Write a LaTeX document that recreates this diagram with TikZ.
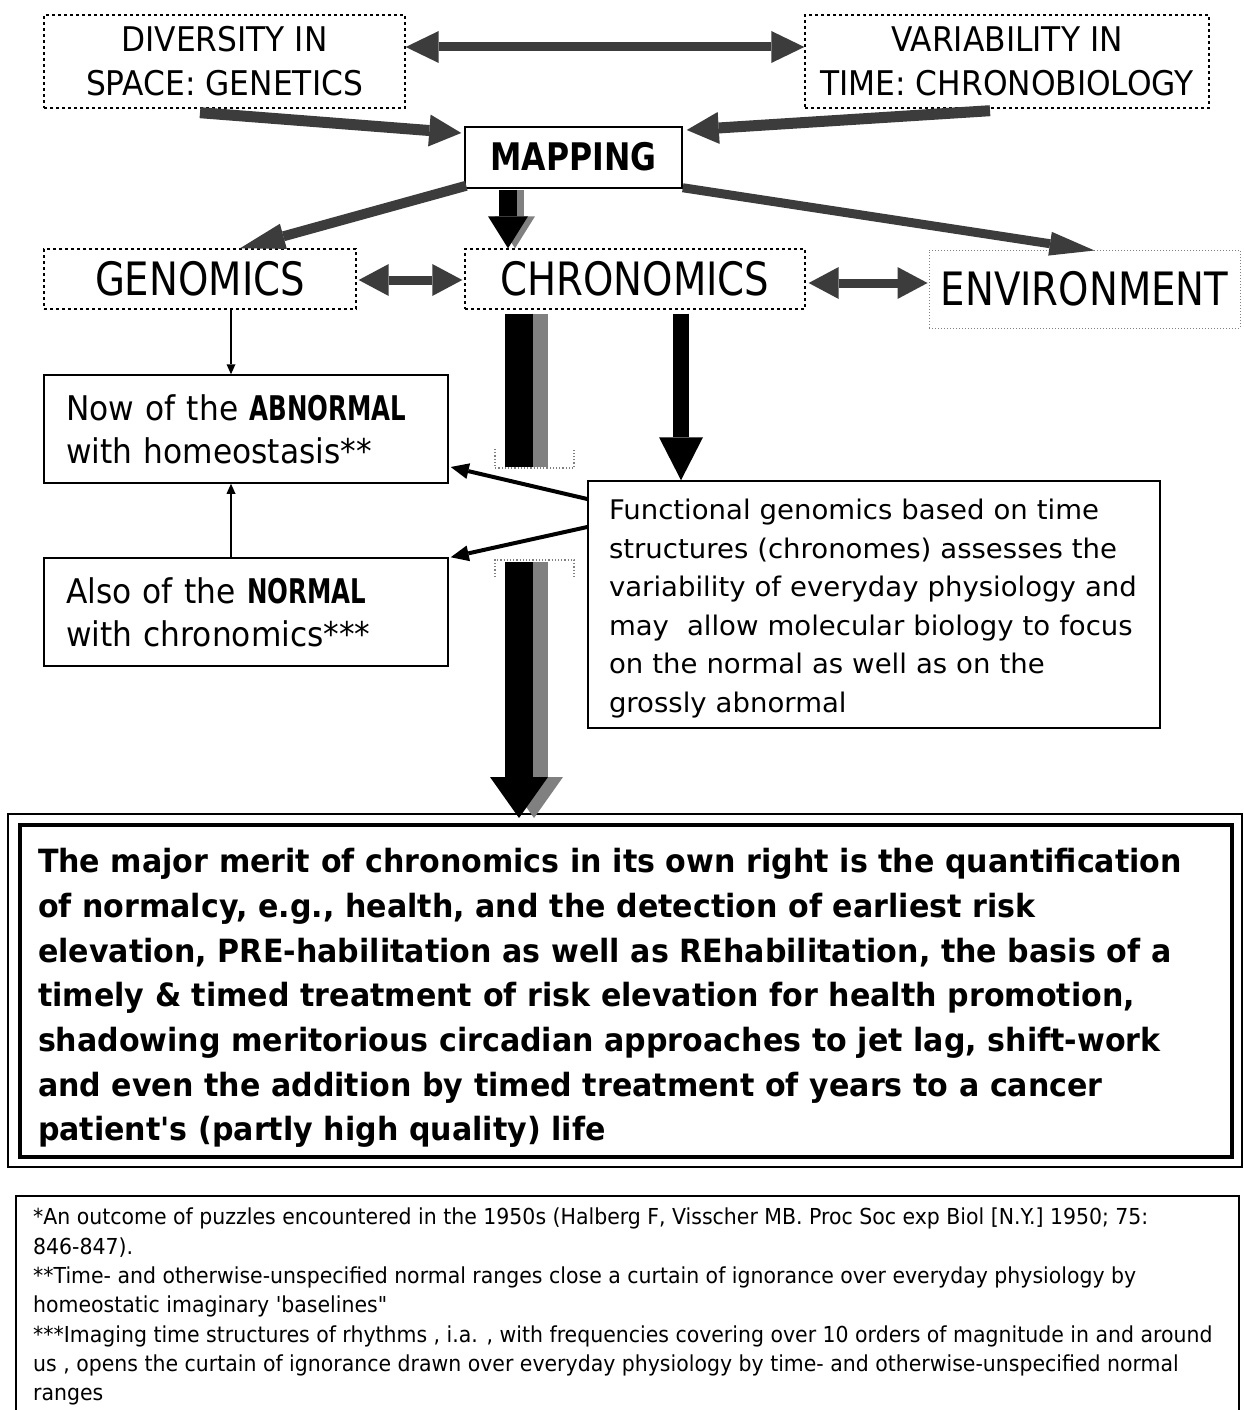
\documentclass[tikz,border=0pt]{standalone}
\usepackage{fontspec}
\setmainfont{DejaVu Sans}
\newfontfamily\fthin[FakeStretch=0.92]{DejaVu Sans}
\newfontfamily\fthinb[FakeStretch=0.72]{DejaVu Sans}
\newfontfamily\fmid[FakeStretch=0.84]{DejaVu Sans}
\newfontfamily\fmap[FakeStretch=0.83]{DejaVu Sans}
\newfontfamily\ffun[FakeStretch=1.02]{DejaVu Sans}
\newfontfamily\fbig[FakeStretch=0.94]{DejaVu Sans}
\newfontfamily\ffoot[FakeStretch=0.93]{DejaVu Sans}
\usetikzlibrary{arrows.meta,calc}
\definecolor{arrg}{HTML}{3C3C3C}
\definecolor{shad}{HTML}{808080}
\newcommand\lnx[1]{\makebox[0pt][l]{#1}}
\begin{document}
\begin{tikzpicture}[x=1pt,y=-1pt,
  dbox/.style={draw, dash pattern=on 3pt off 3pt, line width=1.4pt, inner sep=0pt, align=center},
  sbox/.style={draw, line width=1.5pt, inner sep=0pt},
  tbox/.style={draw, line width=1.5pt, inner ysep=0pt, align=left},
  garrow/.style={draw=arrg, line width=#1},
]
\fill[white] (0,0) rectangle (1243,1410);
\useasboundingbox (0,0) rectangle (1243,1410);

% top boxes
\node[dbox, minimum width=361pt, minimum height=93pt, font=\fthin\fontsize{34}{44}\selectfont] (div) at (224.5,61.5) {DIVERSITY IN\\SPACE: GENETICS};
\node[dbox, minimum width=404pt, minimum height=93pt, font=\fthin\fontsize{34}{44}\selectfont] (var) at (1007,61.5) {VARIABILITY IN\\TIME: CHRONOBIOLOGY};
\node[sbox, minimum width=217pt, minimum height=61pt, font=\fmap\bfseries\fontsize{38}{45}\selectfont] (map) at (573.5,157.5) {\raisebox{2pt}{MAPPING}};

% middle row
\node[dbox, minimum width=312pt, minimum height=60pt, font=\fmid\fontsize{46}{50}\selectfont] (gen) at (200,279) {GENOMICS};
\node[dbox, minimum width=340pt, minimum height=60pt, font=\fmid\fontsize{46}{50}\selectfont] (chr) at (635,279) {CHRONOMICS};
\node[draw=gray, dotted, line width=1pt, inner sep=0pt, minimum width=311pt, minimum height=78pt, font=\fmid\fontsize{46}{50}\selectfont] (env) at (1084.5,289) {ENVIRONMENT};

% left boxes
\node[tbox, inner xsep=22pt, text width=360pt, minimum height=108pt, font=\fthin\fontsize{34}{43}\selectfont] (abn) at (246,429)
  {\lnx{Now of the {\fthinb\bfseries ABNORMAL}}\\\lnx{with homeostasis**}};
\node[tbox, inner xsep=22pt, text width=360pt, minimum height=108pt, font=\fthin\fontsize{34}{43}\selectfont] (nor) at (246,612)
  {\lnx{Also of the {\fthinb\bfseries NORMAL}}\\\lnx{with chronomics***}};

% functional genomics box
\node[draw, line width=1.5pt, minimum width=572pt, minimum height=247pt] (fun) at (874,604.5) {};
\node[inner xsep=21pt, inner ysep=0pt, text width=530pt, align=left, font=\ffun\fontsize{27}{38.6}\selectfont] (funtext) at ([yshift=-4pt]fun.center)
  {\lnx{Functional genomics based on time}\\
   \lnx{structures (chronomes) assesses the}\\
   \lnx{variability of everyday physiology and}\\
   \lnx{may\ \ allow molecular biology to focus}\\
   \lnx{on the normal as well as on the}\\
   \lnx{grossly abnormal}};

% main box
\node[draw, line width=4pt, minimum width=1212pt, minimum height=332pt] (mainbox) at (626,991) {};
\node[inner xsep=18pt, inner ysep=0pt, text width=1176pt, align=left,
      font=\fbig\bfseries\fontsize{32}{44.7}\selectfont] (maintext) at ([yshift=-7pt]mainbox.center)
  {\lnx{The major merit of chronomics in its own right is the quantification}\\
   \lnx{of normalcy, e.g., health, and the detection of earliest risk}\\
   \lnx{elevation, PRE-habilitation as well as REhabilitation, the basis of a}\\
   \lnx{timely \& timed treatment of risk elevation for health promotion,}\\
   \lnx{shadowing meritorious circadian approaches to jet lag, shift-work}\\
   \lnx{and even the addition by timed treatment of years to a cancer}\\
   \lnx{patient's (partly high quality) life}};
\draw[line width=1.5pt] ($(mainbox.north west)+(-10,-9)$) rectangle ($(mainbox.south east)+(8,8)$);

% footnote box
\node[draw, line width=1.5pt, anchor=north west, inner sep=0pt, minimum width=1223pt, minimum height=240pt] (foot) at (15,1195) {};
\node[anchor=north west, inner sep=0pt, align=left, font=\ffoot\fontsize{22}{29.3}\selectfont] (foottext) at (33,1208)
  {*An outcome of puzzles encountered in the 1950s (Halberg F, Visscher MB. Proc Soc exp Biol [N.Y.] 1950; 75:\\
   846-847).\\
   **Time- and otherwise-unspecified normal ranges close a curtain of ignorance over everyday physiology by\\
   homeostatic imaginary 'baselines"\\
   ***Imaging time structures of rhythms , i.a. , with frequencies covering over 10 orders of magnitude in and around\\
   us , opens the curtain of ignorance drawn over everyday physiology by time- and otherwise-unspecified normal\\
   ranges};

% grey thick arrows
\draw[garrow=9pt, {Triangle[length=33pt,width=32pt,line width=0pt]}-{Triangle[length=33pt,width=32pt,line width=0pt]}]
  ([yshift=14.5pt]div.east) -- ([yshift=14.5pt]var.west);
\draw[garrow=11pt, -{Triangle[length=32pt,width=32pt,line width=0pt]}]
  ([shift={(-24.5,4)}]div.south) -- ([shift={(-3,-24.5)}]map.west);
\draw[garrow=11pt, -{Triangle[length=32pt,width=32pt,line width=0pt]}]
  ([shift={(-17,2)}]var.south) -- ([shift={(4,-27.5)}]map.east);
\draw[garrow=10pt, -{Triangle[length=45pt,width=26pt,line width=0pt]}]
  ([shift={(2,-3)}]map.south west) -- ([shift={(40,0)}]gen.north);
\draw[garrow=9pt, -{Triangle[length=45pt,width=24pt,line width=0pt]}]
  ([shift={(0,-1)}]map.south east) -- ([shift={(10,1)}]env.north);
\draw[garrow=9pt, {Triangle[length=30pt,width=32pt,line width=0pt]}-{Triangle[length=30pt,width=32pt,line width=0pt]}]
  ([shift={(2,1)}]gen.east) -- ([shift={(-2,1)}]chr.west);
\draw[garrow=9pt, {Triangle[length=30pt,width=32pt,line width=0pt]}-{Triangle[length=30pt,width=32pt,line width=0pt]}]
  ([shift={(3,4)}]chr.east) -- ([shift={(-1,-6)}]env.west);

% mapping -> chronomics (black with shadow)
\draw[shad, line width=18pt, -{Triangle[length=32pt,width=40pt,line width=0pt]}]
  ([shift={(-58.5,1)}]map.south) -- ([shift={(-120,0)}]chr.north);
\draw[black, line width=18pt, -{Triangle[length=32pt,width=40pt,line width=0pt]}]
  ([shift={(-65.5,1)}]map.south) -- ([shift={(-127,0)}]chr.north);

% chronomics -> functional
\draw[black, line width=16pt, -{Triangle[length=43pt,width=44pt,line width=0pt]}]
  ([shift={(46,4)}]chr.south) -- ([shift={(-193,0)}]fun.north);

% thin arrows
\draw[line width=1.5pt, -{Triangle[length=10pt,width=9pt,line width=0pt]}]
  ([xshift=31pt]gen.south) -- ([xshift=-15pt]abn.north);
\draw[line width=1.5pt, -{Triangle[length=10pt,width=9pt,line width=0pt]}]
  ([xshift=-15pt]nor.north) -- ([xshift=-15pt]abn.south);

% functional -> left boxes
\draw[line width=4pt, -{Triangle[length=18pt,width=16pt,line width=0pt]}]
  ([shift={(0,-105.5)}]fun.west) -- ([shift={(2,38)}]abn.east);
\draw[line width=4pt, -{Triangle[length=18pt,width=16pt,line width=0pt]}]
  ([shift={(0,-77.5)}]fun.west) -- ([shift={(2,0)}]nor.north east);

% big arrow chronomics -> main box
\coordinate (bgA) at (519,467);
\coordinate (bgB) at (519,562);
\coordinate (bgT) at (519,818);
\draw[shad, line width=28pt] ([shift={(-101,4)}]chr.south) -- ([xshift=15pt]bgA);
\draw[black, line width=28pt] ([shift={(-116,4)}]chr.south) -- (bgA);
\draw[shad, line width=28pt, -{Triangle[length=41pt,width=58pt,line width=0pt]}] ([xshift=15pt]bgB) -- ([xshift=15pt]bgT);
\draw[black, line width=28pt, -{Triangle[length=41pt,width=58pt,line width=0pt]}] (bgB) -- (bgT);
\draw[gray, dotted, line width=1.2pt] (495,449) |- (574,468) -- (574,449);
\draw[gray, dotted, line width=1.2pt] (495,577) |- (574,560) -- (574,577);
\end{tikzpicture}
\end{document}
